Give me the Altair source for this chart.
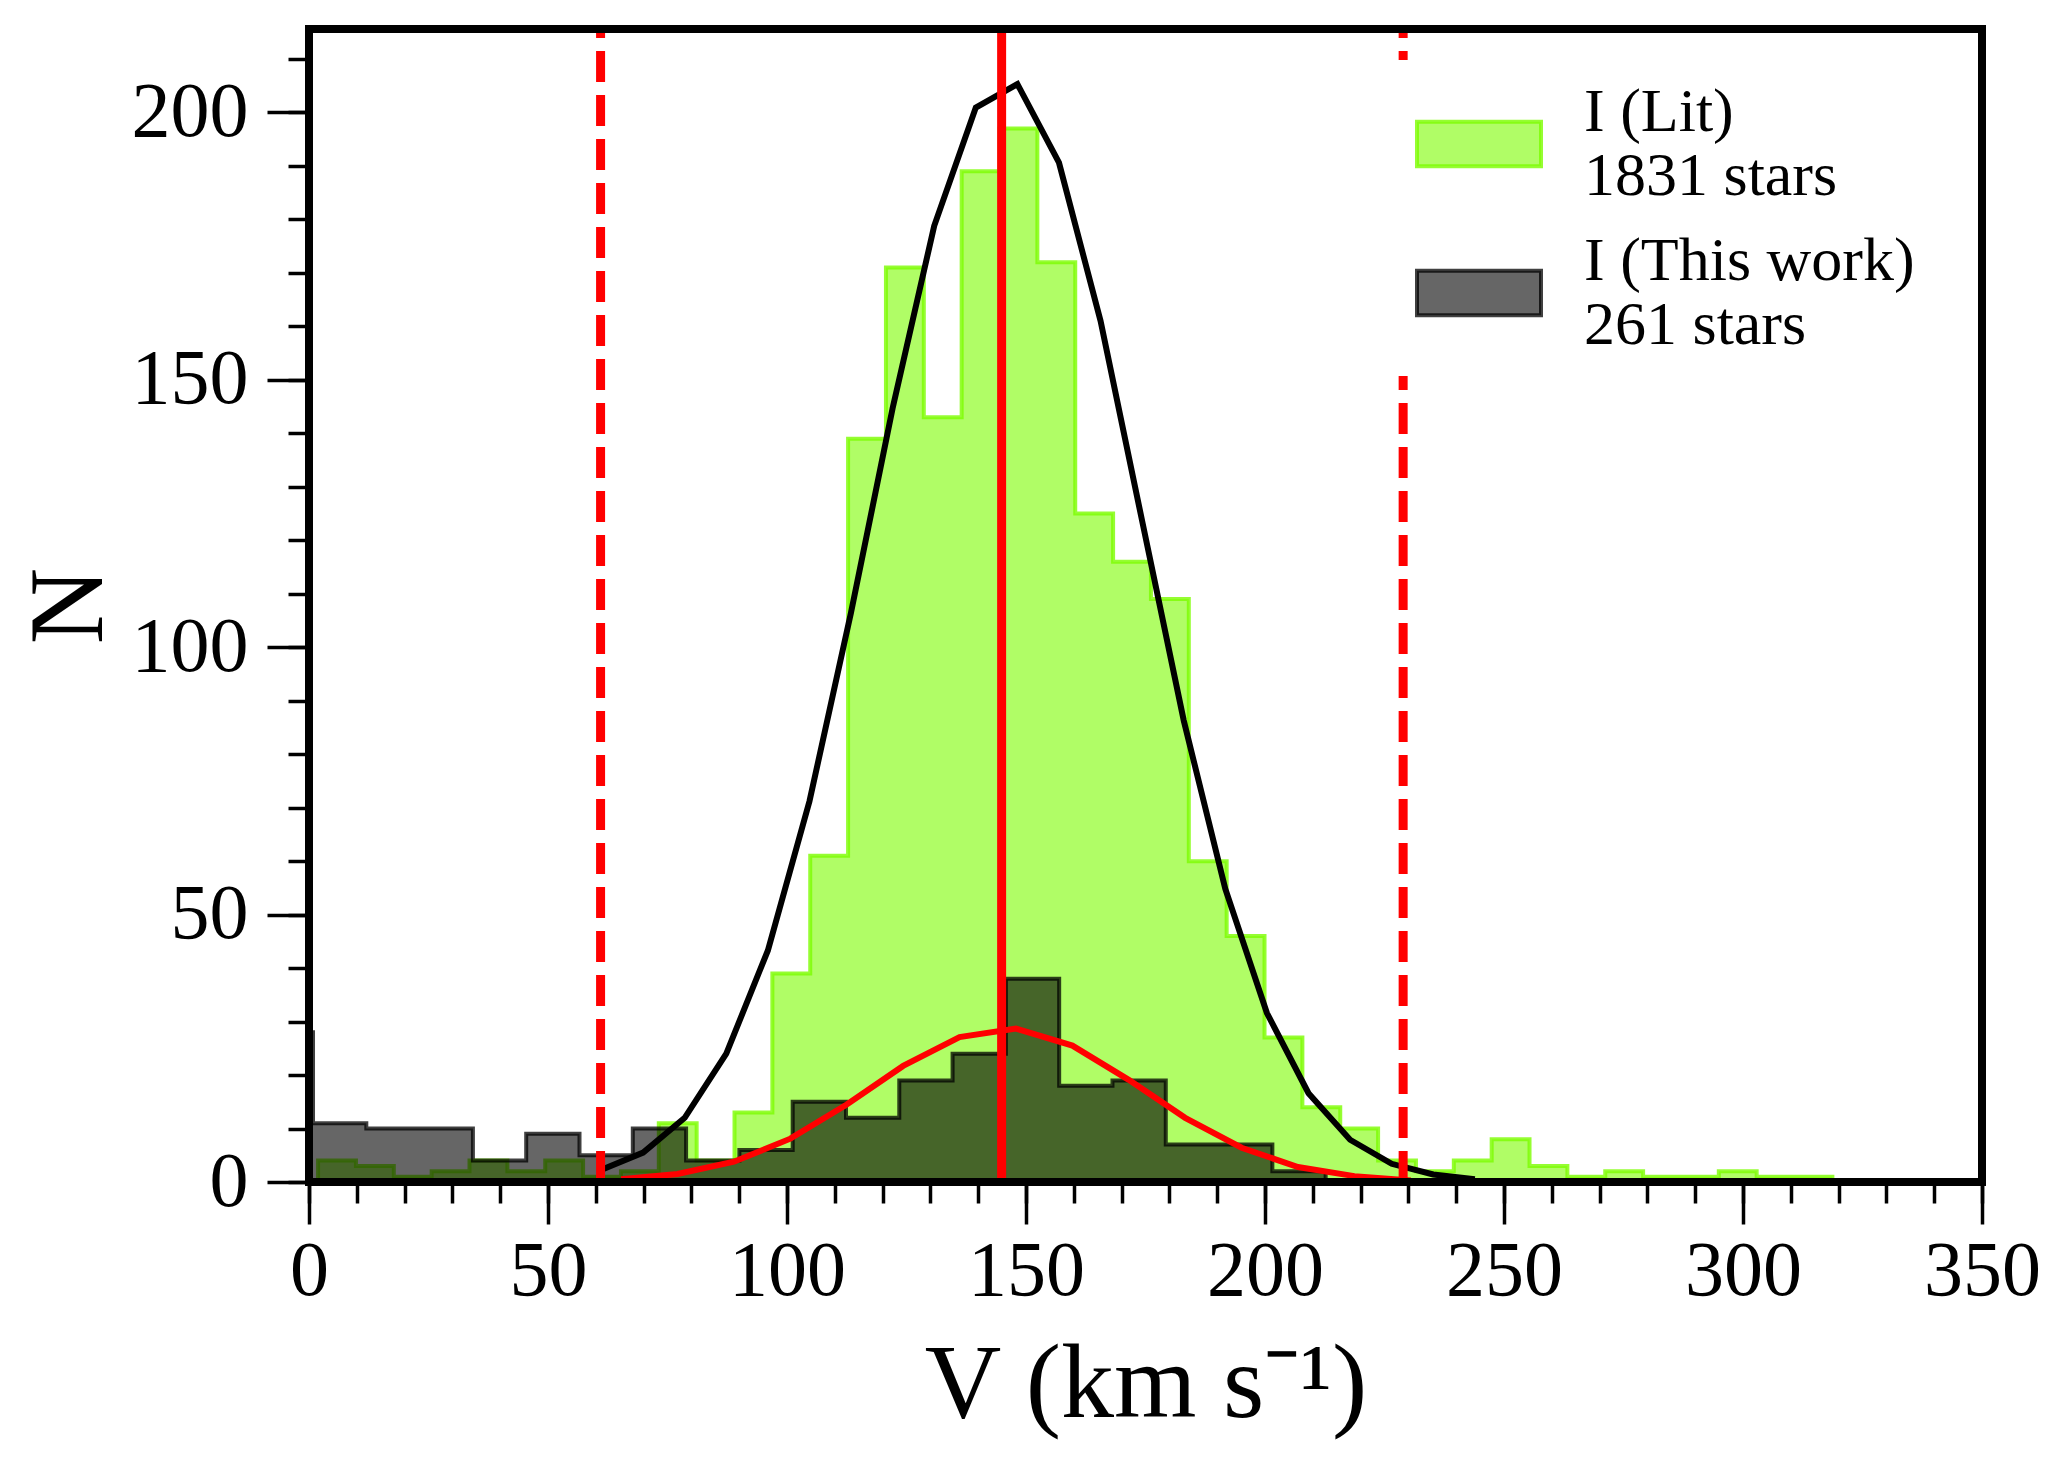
import altair as alt
import pandas as pd

# ---------------- values ----------------
# green histogram ("I (Lit)"): first bin edge, bin width, counts per bin
lit_bin_start = 1.9
lit_bin_width = 7.92
lit_counts = [4, 3, 1, 2, 4, 2, 4, 1, 2, 11, 4, 13, 39, 61, 139, 171, 143, 189,
              197, 172, 125, 116, 109, 60, 46, 27, 14, 10, 4, 2, 4, 8, 3, 1, 2,
              1, 1, 2, 1, 1]

# dark histogram ("I (This work)")
work_bin_start = -10.31
work_bin_width = 11.15
work_counts = [28, 11, 10, 10, 4, 9, 5, 10, 4, 6, 15, 12, 19, 24, 38, 18, 19,
               7, 7, 2]

# black fitted curve (Lit)
lit_fit_v = [61.2, 69.9, 78.6, 87.3, 96.0, 104.7, 113.4, 122.1, 130.8, 139.5,
             148.2, 156.9, 165.6, 174.3, 183.0, 191.7, 200.4, 209.1, 217.8,
             226.5, 235.2, 243.9]
lit_fit_n = [2.3, 5.5, 12.0, 24.0, 43.3, 71.2, 106.5, 144.7, 178.8, 200.9,
             205.3, 190.6, 161.0, 123.6, 86.3, 54.8, 31.6, 16.6, 7.9, 3.4,
             1.4, 0.5]

# red fitted curve (This work)
work_fit_v = [65.3, 77.1, 88.9, 100.7, 112.5, 124.3, 136.1, 147.9, 159.7,
              171.5, 183.3, 195.1, 206.9, 218.7, 230.5]
work_fit_n = [0.5, 1.5, 3.8, 8.1, 14.5, 21.7, 27.1, 28.7, 25.5, 19.1, 12.0,
              6.4, 2.8, 1.1, 0.3]

# vertical reference lines
v_mean = [144.9]
v_cuts = [61.0, 228.9]

series_labels = ["I (Lit)|1831 stars", "I (This work)|261 stars"]

x_domain = [0, 350]
y_domain = [0, 215.6]
x_major = [0, 50, 100, 150, 200, 250, 300, 350]
x_minor = list(range(0, 351, 10))
y_major = [0, 50, 100, 150, 200]
y_minor = list(range(0, 211, 10))

# ---------------- tables ----------------
def step_table(start, width, counts, label):
    rows = []
    for i, c in enumerate(counts):
        rows.append({"v": start + i * width, "n": c, "series": label})
    rows.append({"v": start + len(counts) * width, "n": counts[-1], "series": label})
    return pd.DataFrame(rows)

lit_df = step_table(lit_bin_start, lit_bin_width, lit_counts, series_labels[0])
work_df = step_table(work_bin_start, work_bin_width, work_counts, series_labels[1])
lit_fit_df = pd.DataFrame({"v": lit_fit_v, "n": lit_fit_n})
work_fit_df = pd.DataFrame({"v": work_fit_v, "n": work_fit_n})
cut_df = pd.DataFrame({"v": v_cuts, "y0": y_domain[0], "y1": y_domain[1]})
mean_df = pd.DataFrame({"v": v_mean, "y0": y_domain[0], "y1": y_domain[1]})
frame_df = pd.DataFrame({"x0": [x_domain[0]], "x1": [x_domain[1]],
                         "y0": [y_domain[0]], "y1": [y_domain[1]]})

FONT = "Liberation Serif"
xs = alt.Scale(domain=x_domain, nice=False, zero=False)
ys = alt.Scale(domain=y_domain, nice=False, zero=False)

fill_scale = alt.Scale(domain=series_labels,
                       range=["rgba(124,252,0,0.6)", "rgba(0,0,0,0.6)"])
stroke_scale = alt.Scale(domain=series_labels,
                         range=["rgba(124,252,0,0.8)", "rgba(0,0,0,0.75)"])

def make_legend():
    return alt.Legend(
        orient="none", legendX=1086, legendY=31, title=None, padding=20,
        fillColor="white", labelFont=FONT, labelFontSize=62, labelColor="black",
        labelLimit=0, labelOffset=41, labelExpr="split(datum.label, '|')",
        labelBaseline="bottom",
        symbolType="M-1,-0.36L1,-0.36L1,0.36L-1,0.36Z", symbolSize=15376,
        symbolStrokeWidth=4, symbolOpacity=1, rowPadding=22,
    )

x_major_axis = alt.Axis(
    values=x_major, orient="bottom", tickSize=42, tickWidth=3.5, tickColor="black",
    domain=False, grid=False, labelFont=FONT, labelFontSize=78, labelColor="black",
    labelPadding=8, labelFlush=False, labelOverlap=False, format="d",
    title="V (km s\u207b\u00b9)", titleFont=FONT, titleFontSize=106,
    titleFontWeight="normal", titleColor="black", titlePadding=22,
)
y_major_axis = alt.Axis(
    values=y_major, orient="left", tickSize=42, tickWidth=3.5, tickColor="black",
    domain=False, grid=False, labelFont=FONT, labelFontSize=78, labelColor="black",
    labelPadding=19, labelFlush=False, labelOverlap=False, format="d",
    title="N", titleFont=FONT, titleFontSize=106, titleFontWeight="normal",
    titleColor="black", titlePadding=8,
)
x_minor_axis = alt.Axis(values=x_minor, orient="bottom", tickSize=21, tickWidth=3.5,
                        tickColor="black", domain=False, grid=False, labels=False,
                        title=None)
y_minor_axis = alt.Axis(values=y_minor, orient="left", tickSize=21, tickWidth=3.5,
                        tickColor="black", domain=False, grid=False, labels=False,
                        title=None)

lit_hist = alt.Chart(lit_df).mark_area(
    interpolate="step-after", strokeWidth=4, clip=True, opacity=1
).encode(
    x=alt.X("v:Q", scale=xs, axis=x_major_axis),
    y=alt.Y("n:Q", scale=ys, stack=None, axis=y_major_axis),
    fill=alt.Fill("series:N", scale=fill_scale, legend=make_legend()),
    stroke=alt.Stroke("series:N", scale=stroke_scale, legend=make_legend()),
)

work_hist = alt.Chart(work_df).mark_area(
    interpolate="step-after", strokeWidth=4, clip=True, opacity=1
).encode(
    x=alt.X("v:Q", scale=xs, axis=x_minor_axis),
    y=alt.Y("n:Q", scale=ys, stack=None, axis=y_minor_axis),
    fill=alt.Fill("series:N", scale=fill_scale, legend=make_legend()),
    stroke=alt.Stroke("series:N", scale=stroke_scale, legend=make_legend()),
)

lit_fit = alt.Chart(lit_fit_df).mark_line(color="black", strokeWidth=6, clip=True).encode(
    x=alt.X("v:Q", scale=xs, axis=None),
    y=alt.Y("n:Q", scale=ys, axis=None),
)
work_fit = alt.Chart(work_fit_df).mark_line(color="#ff0000", strokeWidth=6, clip=True).encode(
    x=alt.X("v:Q", scale=xs, axis=None),
    y=alt.Y("n:Q", scale=ys, axis=None),
)
cut_lines = alt.Chart(cut_df).mark_rule(color="#ff0000", strokeWidth=9,
                                        strokeDash=[31, 13]).encode(
    x=alt.X("v:Q", scale=xs, axis=None),
    y=alt.Y("y0:Q", scale=ys, axis=None),
    y2="y1:Q",
)
mean_line = alt.Chart(mean_df).mark_rule(color="#ff0000", strokeWidth=9).encode(
    x=alt.X("v:Q", scale=xs, axis=None),
    y=alt.Y("y0:Q", scale=ys, axis=None),
    y2="y1:Q",
)
frame = alt.Chart(frame_df).mark_rect(fillOpacity=0, stroke="black", strokeWidth=8).encode(
    x=alt.X("x0:Q", scale=xs, axis=None),
    x2="x1:Q",
    y=alt.Y("y0:Q", scale=ys, axis=None),
    y2="y1:Q",
)

chart = alt.layer(
    lit_hist, work_hist, lit_fit, work_fit, cut_lines, mean_line, frame
).resolve_axis(
    x="independent", y="independent"
).properties(
    width=1673, height=1153,
    padding={"left": 301, "top": 21, "right": 70, "bottom": 270},
    autosize=alt.AutoSizeParams(type="none"),
    background="white",
).configure(
    font=FONT
).configure_view(
    strokeWidth=0
)

chart.save("out.html", embed_options={"renderer": "svg", "actions": False})
